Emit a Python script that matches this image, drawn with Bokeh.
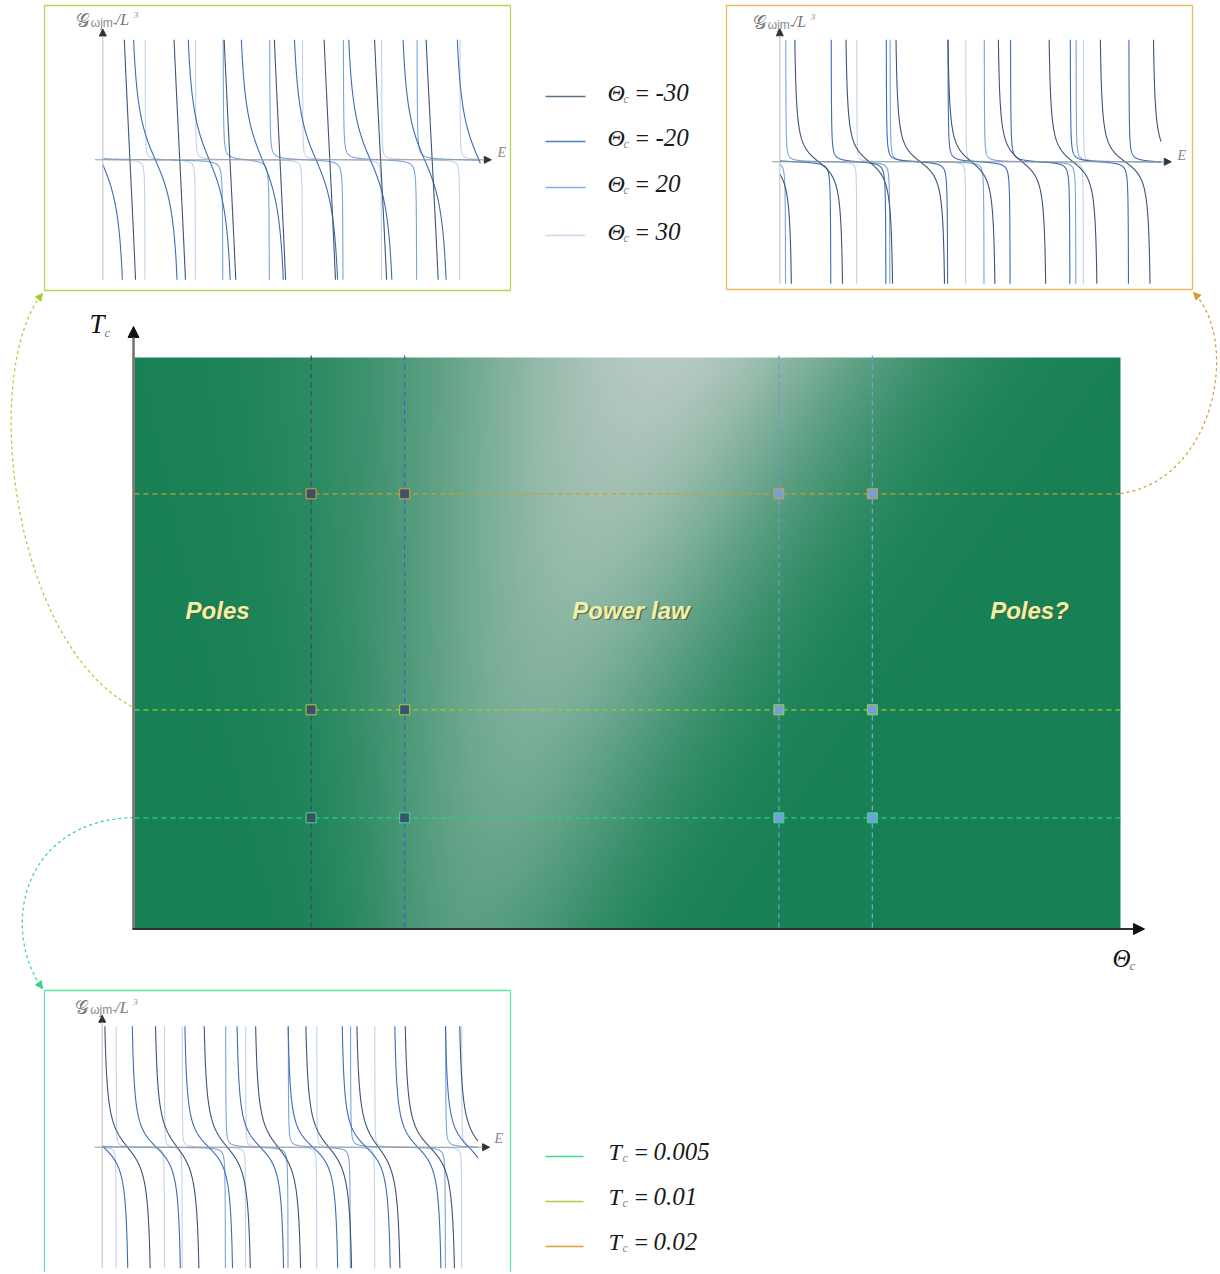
import numpy as np
from bokeh.plotting import figure
from bokeh.models import Range1d, Arrow, NormalHead
from bokeh.core.properties import value
from bokeh.embed import file_html
from bokeh.resources import INLINE

# ---------------- data ----------------
theta_values = [-30, -20, 20, 30]
theta_texts = ["-30", "-20", "20", "30"]
tc_values = [0.005, 0.01, 0.02]
tc_texts = ["0.005", "0.01", "0.02"]
region_names = ["Poles", "Power law", "Poles?"]
region_theta = [-40.0, 4.2, 46.8]
region_tc = [0.0146, 0.0146, 0.0146]

# pole positions of G(E) in each inset (E in axis units, 0 = inset origin), per theta series
# inset A : Tc = 0.01 (top left)
poles_a_m30 = [-1.22, 0.06, 1.34, 2.63, 3.93, 5.21, 6.50, 7.83, 9.16]
poles_a_m20 = [-0.76, 0.65, 2.06, 3.43, 4.80, 6.20, 7.60, 9.00, 10.40]
poles_a_p20 = [-0.50, 3.10, 4.30, 6.20, 8.10, 10.50]
poles_a_p30 = [-0.50, 1.09, 2.39, 5.15, 7.19, 9.21, 10.50]
res_a = [1.1, 0.15, 0.006, 0.003]
emax_a = 9.74
# inset B : Tc = 0.02 (top right)
poles_b_m30 = [-0.97, 0.34, 1.65, 2.93, 4.26, 5.55, 6.85, 8.16, 9.52, 10.82]
poles_b_m20 = [-0.50, 1.31, 2.72, 4.30, 5.90, 7.43, 8.93, 10.50]
poles_b_p20 = [-0.50, 0.15, 2.82, 5.23, 7.58, 10.50]
poles_b_p30 = [-0.50, 1.97, 4.76, 7.77, 10.50]
res_b = [0.045, 0.006, 0.004, 0.002]
emax_b = 9.76
# inset C : Tc = 0.005 (bottom left)
poles_c_m30 = [-1.31, 0.00, 1.31, 2.57, 3.90, 5.20, 6.52, 7.77, 9.18, 10.50]
poles_c_m20 = [-0.64, 0.72, 2.08, 3.43, 4.75, 6.15, 7.51, 8.82, 10.15]
poles_c_p20 = [-0.50, 3.19, 4.81, 6.42, 8.88, 10.50]
poles_c_p30 = [-0.50, 0.36, 1.61, 2.07, 3.71, 5.55, 7.05, 9.30, 10.50]
res_c = [0.07, 0.06, 0.004, 0.002]
emax_c = 9.72

# ---------------- styles ----------------
curve_colors = ["#3b5573", "#3a6db5", "#79a5db", "#bfd3ea"]
legend_line_colors = ["#5e7489", "#4a80c8", "#82aee0", "#c8d8ec"]
theta_dash_colors = ["#34506c", "#3a6aae", "#6c9bd4", "#66aad6"]
square_fill = ["#3c4f68", "#3d526e", "#73a0d8", "#73a0d8"]
tc_colors = ["#3ce08c", "#a8d040", "#d9a23a"]
tc_dash_colors = ["#30d078", "#a0c838", "#c8a030"]

SERIF = value("Liberation Serif")
SANS = value("Liberation Sans")

FW, FH = 1218, 1272

def Y(y):  # reference pixel row -> canvas coordinate
    return FH - y

# main scales (pixel anchors)
TH0, THS = 591.25, 9.354
TC0, TCS = 925.3, 21600.0

insets = [
    dict(key="a", box=(44, 5, 510, 290), org=(102.3, 159.3), sx=38.77, sy=120, emax=emax_a,
         poles=[poles_a_m30, poles_a_m20, poles_a_p20, poles_a_p30], res=res_a,
         border="#b5d656", elab=(497, 152)),
    dict(key="b", box=(726, 5, 1192, 289), org=(779.3, 161.3), sx=39.07, sy=122, emax=emax_b,
         poles=[poles_b_m30, poles_b_m20, poles_b_p20, poles_b_p30], res=res_b,
         border="#e6bb62", elab=(1177, 155)),
    dict(key="c", box=(44, 990, 510, 1275), org=(101.7, 1146.7), sx=38.66, sy=121, emax=emax_c,
         poles=[poles_c_m30, poles_c_m20, poles_c_p20, poles_c_p30], res=res_c,
         border="#5fe6a0", elab=(494, 1138)),
]

p = figure(width=FW, height=FH, x_range=Range1d(0, FW), y_range=Range1d(0, FH),
           x_axis_type=None, y_axis_type=None, toolbar_location=None, output_backend="svg",
           min_border=0, outline_line_color=None)
p.background_fill_color = "white"
p.border_fill_color = "white"

p.extra_x_ranges = {"theta": Range1d((0 - TH0) / THS, (FW - TH0) / THS)}
p.extra_y_ranges = {"tc": Range1d((TC0 - FH) / TCS, (TC0 - 0) / TCS)}
for ins in insets:
    ox, oy = ins["org"]
    p.extra_x_ranges["E_" + ins["key"]] = Range1d((0 - ox) / ins["sx"], (FW - ox) / ins["sx"])
    p.extra_y_ranges["G_" + ins["key"]] = Range1d((oy - FH) / ins["sy"], (oy - 0) / ins["sy"])

# ---------------- main panel background ----------------
PX0, PX1, PY0, PY1 = 134, 1120, 357, 928
W, H = 493, 286
gx = PX0 + (np.arange(W) + 0.5) * (PX1 - PX0) / W
gy = PY0 + (np.arange(H) + 0.5) * (PY1 - PY0) / H
GX, GY = np.meshgrid(gx, gy)
v = (GY - PY0) / (PY1 - PY0)
xc = 665 - 235 * v + 40 * v ** 2
sig = np.where(GX < xc, 180 - 105 * v, 155 - 60 * v)
amp = 0.86 - 0.5 * v
t = amp * np.exp(-0.5 * ((GX - xc) / sig) ** 2)
base = np.array([23, 128, 84], dtype=float)
tgt = np.array([210, 214, 212], dtype=float)
rgb = base[None, None, :] * (1 - t[..., None]) + tgt[None, None, :] * t[..., None]
img = np.zeros((H, W), dtype=np.uint32)
view = img.view(dtype=np.uint8).reshape((H, W, 4))
view[..., 0:3] = np.clip(rgb, 0, 255).astype(np.uint8)
view[..., 3] = 255
img = np.ascontiguousarray(np.flipud(img))
p.image_rgba(image=[img], x=PX0, y=Y(PY1), dw=PX1 - PX0, dh=PY1 - PY0)

# dashed guide lines
p.segment(x0=[PX0] * 3, x1=[PX1] * 3, y0=tc_values, y1=tc_values, y_range_name="tc",
          line_color=tc_dash_colors, line_dash="5 4", line_width=1.3)
p.segment(x0=theta_values, x1=theta_values, y0=[Y(355)] * 4, y1=[Y(PY1)] * 4,
          x_range_name="theta", line_color=theta_dash_colors, line_dash="5 4", line_width=1.3)

sq_x, sq_y, sq_f, sq_l = [], [], [], []
for i, th in enumerate(theta_values):
    for j, tc in enumerate(tc_values):
        sq_x.append(th); sq_y.append(tc); sq_f.append(square_fill[i]); sq_l.append(tc_colors[j])
p.scatter(x=sq_x, y=sq_y, marker="square", size=10, fill_color=sq_f, line_color=sq_l,
          line_width=1.0, x_range_name="theta", y_range_name="tc")

# region labels
p.text(x=region_theta, y=region_tc, text=region_names, x_range_name="theta", y_range_name="tc",
       x_offset=1.5, y_offset=1.5, text_color="#4b5b45", text_alpha=0.8, text_font=SANS,
       text_font_style="bold italic", text_font_size="24px", text_align="center", text_baseline="middle")
p.text(x=region_theta, y=region_tc, text=region_names, x_range_name="theta", y_range_name="tc",
       text_color="#f3f0a3", text_font=SANS,
       text_font_style="bold italic", text_font_size="24px", text_align="center", text_baseline="middle")

# main axes
p.add_layout(Arrow(end=NormalHead(size=11, fill_color="#111111", line_color="#111111"),
                   x_start=133, y_start=Y(929), x_end=133, y_end=Y(326),
                   line_color="#707070", line_width=2.5))
p.add_layout(Arrow(end=NormalHead(size=11, fill_color="#111111", line_color="#111111"),
                   x_start=132, y_start=Y(928.5), x_end=1144, y_end=Y(928.5),
                   line_color="#303030", line_width=2))
p.text(x=[89], y=[Y(323)], text=["T"], text_font=SERIF, text_font_style="italic",
       text_font_size="27px", text_color="#111111", text_baseline="middle")
p.text(x=[104], y=[Y(332)], text=["c"], text_font=SERIF, text_font_style="italic",
       text_font_size="13px", text_color="#777777", text_baseline="middle")
p.text(x=[1112], y=[Y(958)], text=["Θ"], text_font=SERIF, text_font_style="italic",
       text_font_size="25px", text_color="#111111", text_baseline="middle")
p.text(x=[1129], y=[Y(965)], text=["c"], text_font=SERIF, text_font_style="italic",
       text_font_size="13px", text_color="#777777", text_baseline="middle")

# connectors
conns = [
    dict(p0=(131, 706), c0=(10, 640), c1=(-20, 370), p1=(42, 293), col="#a0d030"),
    dict(p0=(1120, 493), c0=(1215, 480), c1=(1240, 340), p1=(1193, 292), col="#d89a30"),
    dict(p0=(133, 817), c0=(20, 820), c1=(0, 930), p1=(42, 988), col="#30d880"),
]
for c in conns:
    p.bezier(x0=[c["p0"][0]], y0=[Y(c["p0"][1])], x1=[c["p1"][0]], y1=[Y(c["p1"][1])],
             cx0=[c["c0"][0]], cy0=[Y(c["c0"][1])], cx1=[c["c1"][0]], cy1=[Y(c["c1"][1])],
             line_color=c["col"], line_dash="3 3", line_width=1.2)
    dx, dy = c["p1"][0] - c["c1"][0], c["p1"][1] - c["c1"][1]
    n = np.hypot(dx, dy)
    p.add_layout(Arrow(end=NormalHead(size=7, fill_color=c["col"], line_color=c["col"]),
                       x_start=c["p1"][0] - 4 * dx / n, y_start=Y(c["p1"][1] - 4 * dy / n),
                       x_end=c["p1"][0], y_end=Y(c["p1"][1]), line_alpha=0))

# ---------------- insets ----------------
def branches(poles, w, emax):
    xs, ys = [], []
    s = np.linspace(0, 1, 900)
    for a, b in zip(poles[:-1], poles[1:]):
        d = b - a
        k = w * np.pi / d
        th0 = np.arctan(k)
        th = th0 + (np.pi - 2 * th0) * (0.5 - 0.5 * np.cos(np.pi * s))
        E = a + th * d / np.pi
        G = k / np.tan(th)
        m = (E >= 0) & (E <= emax)
        if m.sum() > 1:
            xs.append(E[m]); ys.append(G[m])
    return xs, ys

for ins in insets:
    l, tp, r, bt = ins["box"]
    ox, oy = ins["org"]
    xr, yr = "E_" + ins["key"], "G_" + ins["key"]
    p.quad(left=[l], right=[r], top=[Y(tp)], bottom=[Y(bt)], fill_color="white",
           line_color=ins["border"], line_width=1.3)
    # axes
    p.add_layout(Arrow(end=NormalHead(size=7, fill_color="#333333", line_color="#333333"),
                       x_start=0, y_start=-1.0, x_end=0, y_end=1.09, x_range_name=xr, y_range_name=yr,
                       line_color="#c8c8c8", line_width=1.2))
    p.add_layout(Arrow(end=NormalHead(size=7, fill_color="#333333", line_color="#333333"),
                       x_start=-0.2, y_start=0, x_end=10.02, y_end=0, x_range_name=xr, y_range_name=yr,
                       line_color="#9a9a9a", line_width=1.0))
    for idx in [3, 2, 1, 0]:
        xs, ys = branches(ins["poles"][idx], ins["res"][idx], ins["emax"])
        p.multi_line(xs=xs, ys=ys, x_range_name=xr, y_range_name=yr,
                     line_color=curve_colors[idx], line_width=1.1)
    # labels
    lx, ly = ox - 27, oy - 140
    p.text(x=[lx], y=[Y(ly)], text=["𝒢"], text_font=value("DejaVu Sans"), text_font_size="19px",
           text_color="#777777", text_baseline="middle")
    p.text(x=[lx + 15], y=[Y(ly + 3)], text=["ωjm-"], text_font=SANS, text_font_size="12px",
           text_color="#888888", text_baseline="middle")
    p.text(x=[lx + 40], y=[Y(ly)], text=["/L"], text_font=SERIF, text_font_style="italic",
           text_font_size="16px", text_color="#777777", text_baseline="middle")
    p.text(x=[lx + 58], y=[Y(ly - 5)], text=["3"], text_font=SERIF, text_font_style="italic",
           text_font_size="9px", text_color="#888888", text_baseline="middle")
    ex, ey = ins["elab"]
    p.text(x=[ex], y=[Y(ey)], text=["E"], text_font=SERIF, text_font_style="italic",
           text_font_size="14px", text_color="#888888", text_baseline="middle")

# ---------------- legends ----------------
leg_theta_y = [96, 141, 187, 235]
p.segment(x0=[545] * 4, x1=[585] * 4, y0=[Y(v_) for v_ in leg_theta_y], y1=[Y(v_) for v_ in leg_theta_y],
          line_color=legend_line_colors, line_width=1.6)
p.text(x=[607] * 4, y=[Y(v_ - 4) for v_ in leg_theta_y], text=["Θ"] * 4, text_font=SERIF,
       text_font_style="italic", text_font_size="24px", text_color="#1a1a1a", text_baseline="middle")
p.text(x=[623] * 4, y=[Y(v_ + 2) for v_ in leg_theta_y], text=["c"] * 4, text_font=SERIF,
       text_font_style="italic", text_font_size="12px", text_color="#888888", text_baseline="middle")
p.text(x=[635] * 4, y=[Y(v_ - 4) for v_ in leg_theta_y], text=["="] * 4, text_font=SERIF,
       text_font_size="24px", text_color="#1a1a1a", text_baseline="middle")
p.text(x=[655] * 4, y=[Y(v_ - 4) for v_ in leg_theta_y], text=theta_texts, text_font=SERIF,
       text_font_style="italic", text_font_size="25px", text_color="#1a1a1a", text_baseline="middle")

leg_tc_y = [1156, 1201, 1246]
p.segment(x0=[545] * 3, x1=[583] * 3, y0=[Y(v_) for v_ in leg_tc_y], y1=[Y(v_) for v_ in leg_tc_y],
          line_color=tc_colors, line_width=1.6)
p.text(x=[608] * 3, y=[Y(v_ - 5) for v_ in leg_tc_y], text=["T"] * 3, text_font=SERIF,
       text_font_style="italic", text_font_size="24px", text_color="#1a1a1a", text_baseline="middle")
p.text(x=[622] * 3, y=[Y(v_ + 1) for v_ in leg_tc_y], text=["c"] * 3, text_font=SERIF,
       text_font_style="italic", text_font_size="12px", text_color="#888888", text_baseline="middle")
p.text(x=[634] * 3, y=[Y(v_ - 5) for v_ in leg_tc_y], text=["="] * 3, text_font=SERIF,
       text_font_size="24px", text_color="#1a1a1a", text_baseline="middle")
p.text(x=[653] * 3, y=[Y(v_ - 5) for v_ in leg_tc_y], text=tc_texts, text_font=SERIF,
       text_font_style="italic", text_font_size="25px", text_color="#1a1a1a", text_baseline="middle")

open("out.html", "w").write(file_html(p, INLINE))
